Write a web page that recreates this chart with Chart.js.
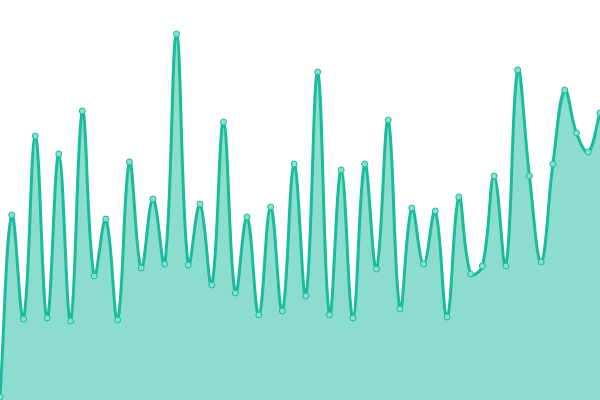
<!DOCTYPE html>
<html>
<head>
<meta charset="utf-8">
<script src="https://cdn.jsdelivr.net/npm/chart.js@4/dist/chart.umd.min.js"></script>
<style>
html,body{margin:0;padding:0;background:#fff;}
#wrap{width:600px;height:400px;}
</style>
</head>
<body>
<div id="wrap"><canvas id="c" width="600" height="400"></canvas></div>
<script>
const labels = Array.from({length: 52}, (_, i) => String(i + 1));
const values = [
  3, 185, 81, 264, 82, 246, 79, 289, 124, 181,
  80, 238, 132, 201, 136, 366, 135, 196, 115, 278,
  107, 183, 85, 193, 89, 236, 104, 328, 85, 230,
  82, 236, 131, 280, 91, 192, 136, 189, 83, 203,
  126, 134, 224, 134, 330, 224, 138, 236, 310, 267,
  248, 287
];
const lineColor = '#1abc9c';
const fillColor = 'rgba(26,188,156,0.5)';

new Chart(document.getElementById('c'), {
  type: 'line',
  data: {
    labels: labels,
    datasets: [{
      data: values,
      borderColor: lineColor,
      backgroundColor: fillColor,
      fill: true,
      tension: 0.4,
      borderWidth: 3,
      pointRadius: 3,
      pointBorderWidth: 1,
      pointBackgroundColor: '#86e0cd',
      pointBorderColor: lineColor
    }]
  },
  options: {
    responsive: false,
    animation: false,
    layout: { padding: 0, autoPadding: false },
    plugins: { legend: { display: false }, tooltip: { enabled: false } },
    scales: {
      x: { display: false, offset: false },
      y: { display: false, min: 0, max: 400 }
    }
  }
});
</script>
</body>
</html>
